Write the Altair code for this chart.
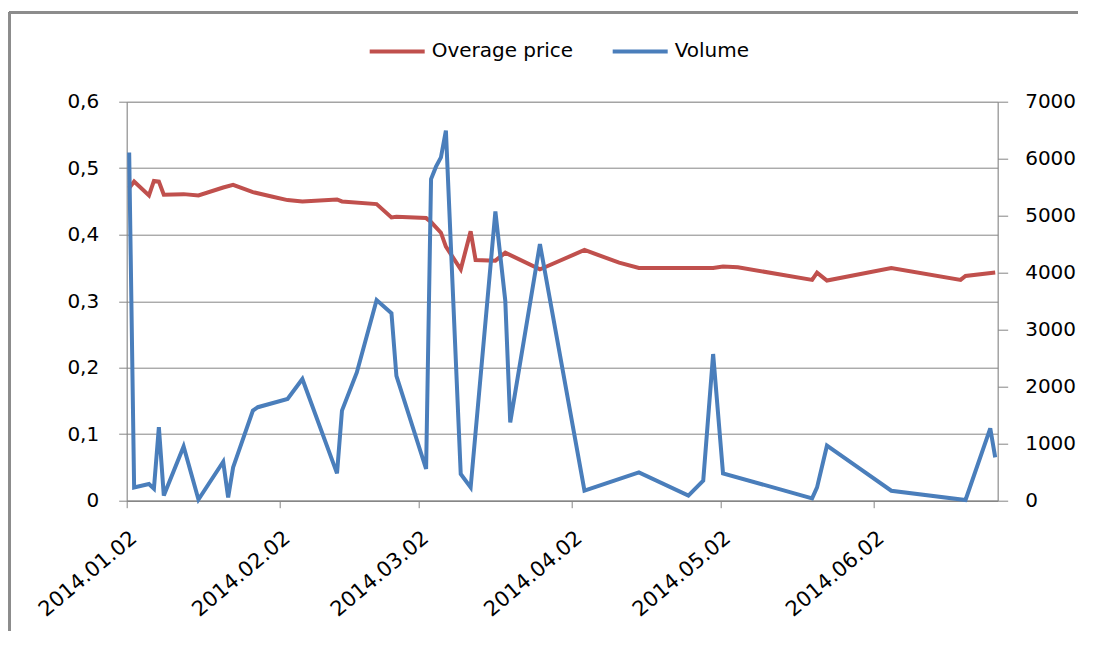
import altair as alt
import pandas as pd

# ---- data ----
vol_dates = ["2014-01-02","2014-01-03","2014-01-06","2014-01-07","2014-01-08","2014-01-09","2014-01-13",
             "2014-01-16","2014-01-21","2014-01-22","2014-01-23","2014-01-27","2014-01-28",
             "2014-02-03","2014-02-06","2014-02-13","2014-02-14","2014-02-17","2014-02-21","2014-02-24","2014-02-25",
             "2014-03-03","2014-03-04","2014-03-05","2014-03-06","2014-03-07","2014-03-10","2014-03-12",
             "2014-03-17","2014-03-19","2014-03-20","2014-03-26",
             "2014-04-04","2014-04-15","2014-04-25","2014-04-28","2014-04-30",
             "2014-05-02","2014-05-20","2014-05-21","2014-05-23","2014-05-30",
             "2014-06-05","2014-06-20","2014-06-25","2014-06-26"]
volume = [6110, 233, 293, 210, 1290, 90, 950, 20, 684, 58, 584, 1580, 1640,
          1784, 2135, 480, 1580, 2250, 3520, 3290, 2190,
          556, 5643, 5860, 6023, 6491, 468, 233, 5076, 3509, 1374, 4503,
          175, 497, 88, 351, 2573,
          480, 41, 233, 965, 540,
          175, 12, 1269, 760]

price_dates = ["2014-01-02","2014-01-03","2014-01-06","2014-01-07","2014-01-08","2014-01-09","2014-01-13",
               "2014-01-16","2014-01-21","2014-01-23","2014-01-27","2014-01-31",
               "2014-02-03","2014-02-06","2014-02-13","2014-02-14","2014-02-21","2014-02-24","2014-02-25",
               "2014-03-03","2014-03-04","2014-03-06","2014-03-07","2014-03-10","2014-03-12","2014-03-13",
               "2014-03-17","2014-03-19","2014-03-26","2014-03-27",
               "2014-04-04","2014-04-11","2014-04-15","2014-04-30",
               "2014-05-02","2014-05-05","2014-05-20","2014-05-21","2014-05-23",
               "2014-06-05","2014-06-19","2014-06-20","2014-06-26"]
price = [0.470, 0.480, 0.459, 0.481, 0.480, 0.460, 0.461, 0.459, 0.471, 0.475, 0.464, 0.457,
         0.452, 0.450, 0.453, 0.450, 0.446, 0.426, 0.427,
         0.425, 0.419, 0.403, 0.382, 0.348, 0.405, 0.362, 0.361, 0.373, 0.348, 0.351,
         0.377, 0.358, 0.350, 0.350,
         0.352, 0.351, 0.332, 0.343, 0.331,
         0.350, 0.332, 0.338, 0.343]

series_names = ["Overage price", "Volume"]
series_colors = ["#C0504D", "#4A7EBB"]

tick_dates = ["2014-01-02", "2014-02-02", "2014-03-02", "2014-04-02", "2014-05-02", "2014-06-02"]
tick_labels = ["2014.01.02", "2014.02.02", "2014.03.02", "2014.04.02", "2014.05.02", "2014.06.02"]
axis_start = "2014-01-02"
axis_end = "2014-06-27"

price_ticks = [0, 0.1, 0.2, 0.3, 0.4, 0.5, 0.6]
volume_ticks = [0, 1000, 2000, 3000, 4000, 5000, 6000, 7000]

# ---- build tables (day offset from axis start; points sit mid-day like Excel date axes) ----
t0 = pd.Timestamp(axis_start)
def day_index(dates):
    return [(pd.Timestamp(d) - t0).days + 0.5 for d in dates]

price_df = pd.DataFrame({"day": day_index(price_dates), "value": price, "series": series_names[0]})
vol_df = pd.DataFrame({"day": day_index(vol_dates), "value": volume, "series": series_names[1]})

tick_vals = [(pd.Timestamp(d) - t0).days for d in tick_dates]
x_end = (pd.Timestamp(axis_end) - t0).days
label_expr = "[" + ",".join("'%s'" % s for s in tick_labels) + "][indexof([" + \
             ",".join(str(v) for v in tick_vals) + "], datum.value)]"

FONT = "DejaVu Sans"
GRID = "#868686"

color = alt.Color("series:N",
                  scale=alt.Scale(domain=series_names, range=series_colors),
                  legend=alt.Legend(title=None, orient="none", legendX=241, legendY=-80,
                                    direction="horizontal", symbolType="stroke",
                                    symbolSize=3025, symbolStrokeWidth=4,
                                    labelFont=FONT, labelFontSize=20, labelColor="#000000",
                                    labelOffset=5, columnPadding=31))

x_enc = alt.X("day:Q",
              scale=alt.Scale(domain=[0, x_end], nice=False, zero=False),
              axis=alt.Axis(values=tick_vals, labelExpr=label_expr, title=None, grid=False,
                            labelAngle=-40, labelAlign="right", labelBaseline="top",
                            labelPadding=19, labelOffset=0,
                            tickSize=7, tickColor=GRID, domainColor=GRID, domainWidth=1.5,
                            labelFont=FONT, labelFontSize=21, labelColor="#000000"))

price_line = alt.Chart(price_df).mark_line(strokeWidth=4).encode(
    x=x_enc,
    y=alt.Y("value:Q",
            scale=alt.Scale(domain=[0, 0.6], nice=False),
            axis=alt.Axis(values=price_ticks, title=None, orient="left",
                          labelExpr="datum.value == 0 ? '0' : replace(format(datum.value, '.1f'), '.', ',')",
                          grid=True, gridColor=GRID, gridWidth=1,
                          tickSize=8, tickColor=GRID, domainColor=GRID,
                          labelPadding=20, labelFont=FONT, labelFontSize=20, labelColor="#000000")),
    color=color,
)

vol_line = alt.Chart(vol_df).mark_line(strokeWidth=4).encode(
    x=x_enc,
    y=alt.Y("value:Q",
            scale=alt.Scale(domain=[0, 7000], nice=False),
            axis=alt.Axis(values=volume_ticks, title=None, orient="right", format="d",
                          grid=False, tickSize=10, tickColor=GRID, domainColor=GRID,
                          labelPadding=17, labelFont=FONT, labelFontSize=20, labelColor="#000000")),
    color=color,
)

lines = alt.layer(price_line, vol_line).resolve_scale(y="independent")

# outer chart frame (decoration, like Excel's chart area border)
frame_left = alt.Chart(price_df).mark_rule(color="#8c8c8c", strokeWidth=2).encode(
    x=alt.value(-117), y=alt.value(-89), y2=alt.value(560))
frame_top = alt.Chart(price_df).mark_rule(color="#8c8c8c", strokeWidth=2).encode(
    x=alt.value(-117), x2=alt.value(1000), y=alt.value(-89))

chart = alt.layer(lines, frame_left, frame_top).properties(
    width=871, height=399,
    autosize=alt.AutoSizeParams(type="none"),
    padding={"left": 118.7, "top": 93.7, "right": 80, "bottom": 130},
).configure_view(stroke=None).configure(background="#ffffff")

chart.save("out.html", embed_options={"renderer": "svg", "actions": False})
